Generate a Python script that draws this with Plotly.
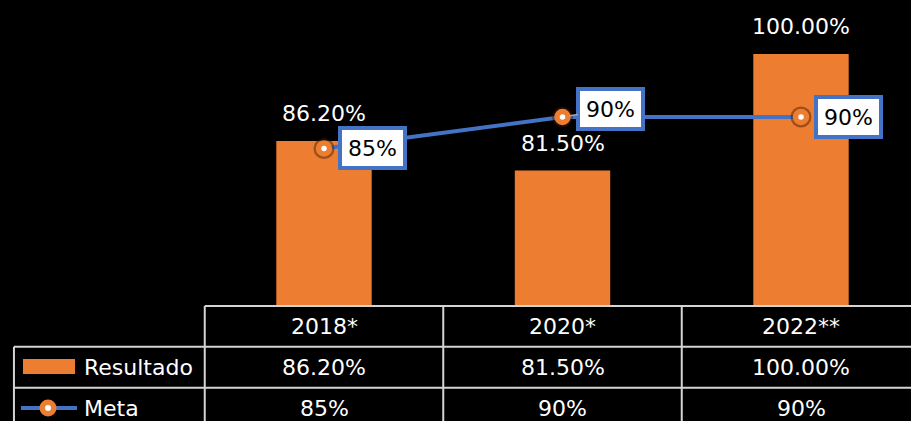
import plotly.graph_objects as go

categories = ["2018*", "2020*", "2022**"]
resultado = [86.2, 81.5, 100.0]
meta = [85, 90, 90]
series_names = ["Resultado", "Meta"]

ORANGE = "#ED7D31"
BLUE = "#4472C4"
GRID = "#d4d4d4"
FONT = "DejaVu Sans"
W, H = 911, 421

x_idx = list(range(len(categories)))

fig = go.Figure()
fig.add_trace(go.Bar(x=x_idx, y=resultado, width=0.4, marker=dict(color=ORANGE, line=dict(width=0)),
                     name=series_names[0], hoverinfo="skip"))
fig.add_trace(go.Scatter(x=x_idx, y=meta, mode="lines", name=series_names[1],
                         line=dict(color=BLUE, width=4), hoverinfo="skip"))
# soft shadow behind markers
fig.add_trace(go.Scatter(x=x_idx, y=meta, mode="markers", showlegend=False,
                         marker=dict(symbol="circle", size=21, color="rgba(60,25,0,0.45)", line=dict(width=0)),
                         hoverinfo="skip"))
fig.add_trace(go.Scatter(x=x_idx, y=meta, mode="markers", showlegend=False,
                         marker=dict(symbol="circle", size=11, color="white", line=dict(color=ORANGE, width=5.5)),
                         hoverinfo="skip"))

ann = []
# bar value labels
for i, v in enumerate(resultado):
    ann.append(dict(x=i, y=v, xref="x", yref="y", text=f"{v:.2f}%", showarrow=False,
                    yanchor="bottom", yshift=13, font=dict(family=FONT, size=22, color="white")))
# meta boxed labels
offsets = [(48, 1), (48, 8), (47, 0)]
for i, v in enumerate(meta):
    dx, dy = offsets[i]
    a = dict(x=i, y=v, xref="x", yref="y", text=f"{v:.0f}%",
             font=dict(family=FONT, size=22, color="black"),
             bgcolor="white", bordercolor=BLUE, borderwidth=4, borderpad=3,
             width=55, height=30)
    if i == 1:
        a.update(showarrow=True, ax=dx, ay=-dy, axref="pixel", ayref="pixel",
                 arrowcolor="#a6a6a6", arrowwidth=1.5, arrowhead=0, standoff=7)
    else:
        a.update(showarrow=False, xshift=dx, yshift=dy)
    ann.append(a)

# table geometry (paper coords)
y_top = 1 - 306 / H
y_r1 = 1 - 346.7 / H
y_r2 = 1 - 387.7 / H
y_bot = 1 - 428.7 / H
x_left = -1.3
bounds = [-0.5, 0.5, 1.5, 2.5]

shapes = []
def line(x0, y0, x1, y1):
    shapes.append(dict(type="line", xref="x", yref="paper", x0=x0, y0=y0, x1=x1, y1=y1,
                       line=dict(color=GRID, width=2), layer="above"))

line(bounds[0], y_top, bounds[-1], y_top)
line(x_left, y_r1, bounds[-1], y_r1)
line(x_left, y_r2, bounds[-1], y_r2)
line(x_left, y_r1, x_left, y_bot)
for b in bounds:
    line(b, y_top, b, y_bot)

# table text
rows = [
    (y_top, y_r1, categories),
    (y_r1, y_r2, [f"{v:.2f}%" for v in resultado]),
    (y_r2, y_bot, [f"{v:.0f}%" for v in meta]),
]
for (ya, yb, texts) in rows:
    for i, t in enumerate(texts):
        ann.append(dict(x=i, y=(ya + yb) / 2, xref="x", yref="paper", text=t, showarrow=False,
                        yanchor="middle", font=dict(family=FONT, size=22, color="white")))

# legend keys in first column
ann.append(dict(x=82 / W, y=(y_r1 + y_r2) / 2, xref="paper", yref="paper", text=series_names[0],
                showarrow=False, xanchor="left", yanchor="middle",
                font=dict(family=FONT, size=22, color="white")))
ann.append(dict(x=82 / W, y=(y_r2 + y_bot) / 2, xref="paper", yref="paper", text=series_names[1],
                showarrow=False, xanchor="left", yanchor="middle",
                font=dict(family=FONT, size=22, color="white")))
shapes.append(dict(type="rect", xref="paper", yref="paper", x0=23 / W, x1=75 / W,
                   y0=1 - 374 / H, y1=1 - 359 / H, fillcolor=ORANGE, line=dict(width=0)))
ym = 1 - 408 / H
shapes.append(dict(type="line", xref="paper", yref="paper", x0=21 / W, x1=77 / W, y0=ym, y1=ym,
                   line=dict(color=BLUE, width=4)))
shapes.append(dict(type="circle", xref="paper", yref="paper", x0=39.5 / W, x1=56.5 / W,
                   y0=ym - 8.5 / H, y1=ym + 8.5 / H, fillcolor=ORANGE, line=dict(width=0)))
shapes.append(dict(type="circle", xref="paper", yref="paper", x0=45 / W, x1=51 / W,
                   y0=ym - 3 / H, y1=ym + 3 / H, fillcolor="white", line=dict(width=0)))

x0 = -324 / 238.5
x1 = (W - 324) / 238.5
fig.update_layout(
    width=W, height=H, margin=dict(l=0, r=0, t=0, b=0),
    paper_bgcolor="black", plot_bgcolor="black", showlegend=False,
    xaxis=dict(range=[x0, x1], visible=False, domain=[0, 1]),
    yaxis=dict(range=[60, 108.57], visible=False, domain=[y_top, 1]),
    annotations=ann, shapes=shapes,
    font=dict(family=FONT, color="white"),
)
fig.write_html("out.html", config={"displayModeBar": False},
               post_script="document.body.style.margin='0';document.body.style.background='black';")
